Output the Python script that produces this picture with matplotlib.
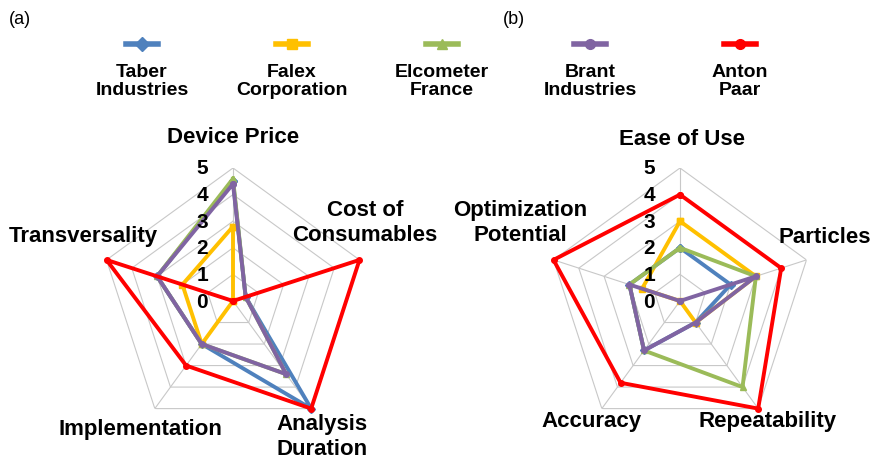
import numpy as np
import matplotlib
matplotlib.use('Agg')
import matplotlib.pyplot as plt
from matplotlib.lines import Line2D

plt.rcParams['font.family'] = ['Liberation Sans', 'DejaVu Sans']

# series
companies = ['Taber\nIndustries', 'Falex\nCorporation', 'Elcometer\nFrance',
             'Brant\nIndustries', 'Anton\nPaar']
colors = ['#4F81BD', '#FFC000', '#9BBB59', '#8064A2', '#FF0000']
markers = ['D', 's', '^', 'o', 'o']

# (a)
axes_a = ['Device Price', 'Cost of\nConsumables', 'Analysis\nDuration',
          'Implementation', 'Transversality']
taber_a = [4.5, 0.5, 5.0, 2.0, 3.0]
falex_a = [2.8, 0.0, 0.0, 2.0, 2.0]
elcometer_a = [4.6, 0.5, 3.4, 2.0, 3.0]
brant_a = [4.4, 0.5, 3.4, 2.0, 3.0]
anton_a = [0.0, 5.0, 5.0, 3.0, 5.0]

# (b)
axes_b = ['Ease of Use', 'Particles', 'Repeatability', 'Accuracy',
          'Optimization\nPotential']
taber_b = [2.0, 2.0, 1.0, 2.3, 2.0]
falex_b = [3.0, 3.0, 1.0, 0.0, 1.5]
elcometer_b = [2.0, 3.0, 4.0, 2.3, 2.0]
brant_b = [0.0, 3.0, 1.0, 2.3, 2.0]
anton_b = [4.0, 4.0, 5.0, 3.8, 5.0]

r_ticks = [0, 1, 2, 3, 4, 5]

# label offsets from the centre, in pixels (dx, dy up)
offs_a = [(0, 164), (132, 79), (89, -135), (-93, -128), (-150, 65)]
offs_b = [(2, 162), (145, 64), (88, -120), (-89, -120), (-160, 79)]

fig = plt.figure(figsize=(8.72, 4.6), dpi=100)

W, H = 872, 460
R = 133


def radar(cx, cy, labels, series, offs):
    ax = fig.add_axes([(cx - R) / W, (H - cy - R) / H, 2 * R / W, 2 * R / H],
                      projection='polar')
    ax.set_theta_zero_location('N')
    ax.set_theta_direction(-1)
    n = len(labels)
    th = np.linspace(0, 2 * np.pi, n, endpoint=False)
    thc = np.append(th, th[0])
    # pentagon grid
    for k in r_ticks[1:]:
        ax.plot(thc, [k] * (n + 1), color='#c8c8c8', lw=0.8, zorder=0)
    for t in th:
        ax.plot([t, t], [0, r_ticks[-1]], color='#c8c8c8', lw=0.8, zorder=0)
    for vals, c, m in zip(series, colors, markers):
        v = np.append(vals, vals[0])
        ax.plot(thc, v, color=c, lw=2.8, marker=m, markersize=4,
                zorder=3, clip_on=False)
    ax.set_ylim(0, r_ticks[-1])
    ax.set_xticks([])
    ax.set_yticks([])
    ax.grid(False)
    ax.spines['polar'].set_visible(False)
    ax.patch.set_visible(False)
    for k in r_ticks:
        ax.annotate(str(k), xy=(0, k), xytext=(-31, 0), textcoords='offset pixels',
                    ha='center', va='center', fontsize=15, fontweight='bold',
                    zorder=4)
    for lab, (dx, dy) in zip(labels, offs):
        ax.annotate(lab, xy=(0, 0), xytext=(dx, dy), textcoords='offset pixels',
                    ha='center', va='center', ma='center', fontsize=16,
                    fontweight='bold', linespacing=1.2, annotation_clip=False)
    return ax


radar(233, 302, axes_a, [taber_a, falex_a, elcometer_a, brant_a, anton_a], offs_a)
radar(680, 302, axes_b, [taber_b, falex_b, elcometer_b, brant_b, anton_b], offs_b)

fig.text(20 / W, 1 - 20 / H, '(a)', fontsize=13, ha='center', va='center')
fig.text(514 / W, 1 - 20 / H, '(b)', fontsize=13, ha='center', va='center')

# legend: handle above the name
leg_x = [142, 292, 442, 590, 740]
for x, name, c, m in zip(leg_x, companies, colors, markers):
    xs = np.array([x - 16, x, x + 16]) / W
    fig.add_artist(Line2D(xs, [1 - 45 / H] * 3, transform=fig.transFigure,
                          color=c, lw=4, marker=m, markersize=7, markevery=[1]))
    fig.text(x / W, 1 - 81.5 / H, name, ha='center', va='center', ma='center',
             fontsize=14, fontweight='bold', linespacing=1.1)

fig.savefig('out.png', dpi=100)
